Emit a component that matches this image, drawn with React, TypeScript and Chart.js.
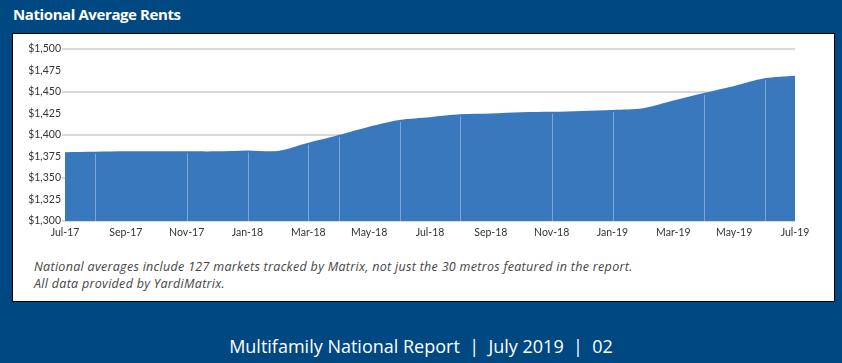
import React, { useEffect, useRef } from "react";
import { Chart, registerables } from "chart.js";

Chart.register(...registerables);

const months = [
  "Jul-17", "Aug-17", "Sep-17", "Oct-17", "Nov-17", "Dec-17",
  "Jan-18", "Feb-18", "Mar-18", "Apr-18", "May-18", "Jun-18",
  "Jul-18", "Aug-18", "Sep-18", "Oct-18", "Nov-18", "Dec-18",
  "Jan-19", "Feb-19", "Mar-19", "Apr-19", "May-19", "Jun-19", "Jul-19",
];

const rents = [
  1380, 1380.5, 1381, 1381, 1381, 1381,
  1382, 1381.5, 1391, 1400, 1409.7, 1417.5,
  1420.7, 1424, 1425, 1426.5, 1427, 1428,
  1429, 1431, 1440, 1448.7, 1457, 1466, 1469,
];

// months where the source shows faint seams in the filled area
const seamMonths = ["Aug-17", "Nov-17", "Jan-18", "Mar-18", "Apr-18", "Jun-18", "Aug-18", "Nov-18", "Jan-19", "Apr-19", "Jun-19"];

const yMin = 1300;
const yMax = 1500;
const yStep = 25;

const title = "National Average Rents";
const footnote1 = "National averages include 127 markets tracked by Matrix, not just the 30 metros featured in the report.";
const footnote2 = "All data provided by YardiMatrix.";
const footer = "Multifamily National Report  |  July 2019  |  02";

const NAVY = "#004881";
const AREA = "#3a78bd";

const seamPlugin = {
  id: "seams",
  afterDatasetsDraw(chart: any) {
    const { ctx, chartArea, scales } = chart;
    const meta = chart.getDatasetMeta(0);
    ctx.save();
    ctx.strokeStyle = "rgba(255,255,255,0.35)";
    ctx.lineWidth = 1;
    seamMonths.forEach((m) => {
      const i = months.indexOf(m);
      if (i < 0) return;
      const x = Math.round(scales.x.getPixelForValue(i)) + 0.5;
      const top = meta.data[i].y + 2;
      ctx.beginPath();
      ctx.moveTo(x, top);
      ctx.lineTo(x, chartArea.bottom);
      ctx.stroke();
    });
    ctx.restore();
  },
};

export default function App() {
  const ref = useRef<HTMLCanvasElement>(null);

  useEffect(() => {
    document.body.style.margin = "0";
    const ctx = ref.current!;
    const chart = new Chart(ctx, {
      type: "line",
      data: {
        labels: months,
        datasets: [
          {
            data: rents,
            fill: "start",
            backgroundColor: AREA,
            borderColor: AREA,
            borderWidth: 0,
            pointRadius: 0,
            tension: 0.3,
          },
        ],
      },
      plugins: [seamPlugin],
      options: {
        animation: false,
        responsive: false,
        maintainAspectRatio: false,
        layout: { padding: { left: 0, right: 39, top: 15, bottom: 0 } },
        plugins: { legend: { display: false }, tooltip: { enabled: false } },
        scales: {
          x: {
            offset: false,
            border: { display: false },
            grid: { display: false, drawTicks: false },
            ticks: {
              autoSkip: false,
              maxRotation: 0,
              padding: 5,
              color: "#333",
              font: { family: "Lato", size: 10.5 },
              callback: (_v: any, i: number) => (i % 2 === 0 ? months[i] : ""),
            },
            afterFit: (s: any) => {
              s.height = 28;
            },
          },
          y: {
            min: yMin,
            max: yMax,
            border: { display: false },
            grid: {
              color: (c: any) => (c.tick && c.tick.value % 50 === 0 ? "#d9d9d9" : "rgba(0,0,0,0)"),
              lineWidth: 2,
              tickLength: 3,
            },
            ticks: {
              stepSize: yStep,
              padding: 1,
              color: "#333",
              font: { family: "Lato", size: 10.5 },
              callback: (v: any) => "$" + Number(v).toLocaleString("en-US"),
            },
            afterFit: (s: any) => {
              s.width = 52;
            },
          },
        },
      },
    });
    return () => chart.destroy();
  }, []);

  return (
    <div style={{ position: "relative", width: 842, height: 363, background: NAVY, overflow: "hidden" }}>
      <div
        style={{
          position: "absolute",
          left: 13,
          top: 4,
          color: "#fff",
          fontFamily: "'Open Sans'",
          fontWeight: 700,
          fontSize: 15,
          letterSpacing: -0.4,
          whiteSpace: "nowrap",
        }}
      >
        {title}
      </div>
      <div
        style={{
          position: "absolute",
          left: 12,
          top: 33,
          width: 821,
          height: 267,
          background: "#fff",
          border: "1px solid #000",
        }}
      >
        <canvas ref={ref} width={821} height={215} style={{ position: "absolute", left: 0, top: 0, width: 821, height: 215 }} />
        <div
          style={{
            position: "absolute",
            left: 21,
            top: 224,
            color: "#444",
            fontFamily: "'Open Sans'",
            fontStyle: "italic",
            fontSize: 12.5,
            letterSpacing: 0.3,
            lineHeight: "17px",
            whiteSpace: "nowrap",
          }}
        >
          <div>{footnote1}</div>
          <div>{footnote2}</div>
        </div>
      </div>
      <div
        style={{
          position: "absolute",
          left: 0,
          width: 842,
          top: 334,
          textAlign: "center",
          color: "#fff",
          fontFamily: "'Open Sans'",
          fontSize: 18,
          whiteSpace: "pre",
        }}
      >
        {footer}
      </div>
    </div>
  );
}
